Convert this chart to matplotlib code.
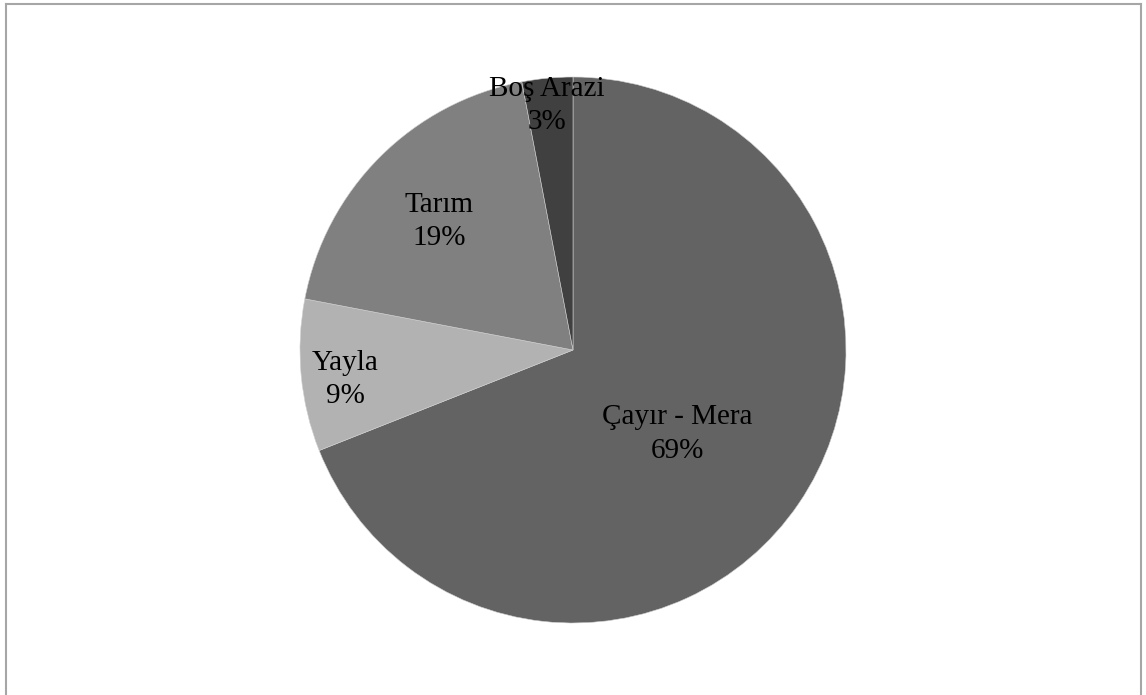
import matplotlib
matplotlib.use("Agg")
import matplotlib.pyplot as plt
import numpy as np

categories = ["Çayır - Mera", "Yayla", "Tarım", "Boş Arazi"]
values = [69, 9, 19, 3]
colors = ["#636363", "#b2b2b2", "#808080", "#404040"]
# label placement: fraction of radius and angular shift (degrees) from wedge middle
label_radius = [0.49, 0.84, 0.68, 0.90]
label_shift = [-4.7, 2.0, 1.1, 0.7]

W, H = 1146, 695
fig = plt.figure(figsize=(W / 100, H / 100), dpi=100)
fig.patch.set_facecolor("white")

cx, cy, r = 573, 695 - 350, 273
ax = fig.add_axes([(cx - r) / W, (cy - r) / H, 2 * r / W, 2 * r / H])
wedges, _ = ax.pie(values, colors=colors, startangle=90, counterclock=False,
                   radius=1.0, wedgeprops=dict(edgecolor="#d0d0d0", linewidth=0.4))
ax.set_xlim(-1, 1)
ax.set_ylim(-1, 1)
ax.set_aspect("equal")
ax.axis("off")

total = sum(values)
for w, cat, v, lr, ls in zip(wedges, categories, values, label_radius, label_shift):
    ang = np.deg2rad((w.theta1 + w.theta2) / 2 + ls)
    ax.text(lr * np.cos(ang), lr * np.sin(ang), f"{cat}\n{round(100 * v / total)}%",
            ha="center", va="center", fontsize=21, family="Liberation Serif",
            color="black", linespacing=1.36)

# outer frame (left, top, right)
frame = dict(color="#a6a6a6", lw=1.5, transform=fig.transFigure)
fig.add_artist(plt.Line2D([6 / W, 6 / W], [0, 1 - 4 / H], **frame))
fig.add_artist(plt.Line2D([6 / W, 1141 / W], [1 - 4 / H, 1 - 4 / H], **frame))
fig.add_artist(plt.Line2D([1141 / W, 1141 / W], [0, 1 - 4 / H], **frame))

fig.savefig("out.png", dpi=100, facecolor="white")
